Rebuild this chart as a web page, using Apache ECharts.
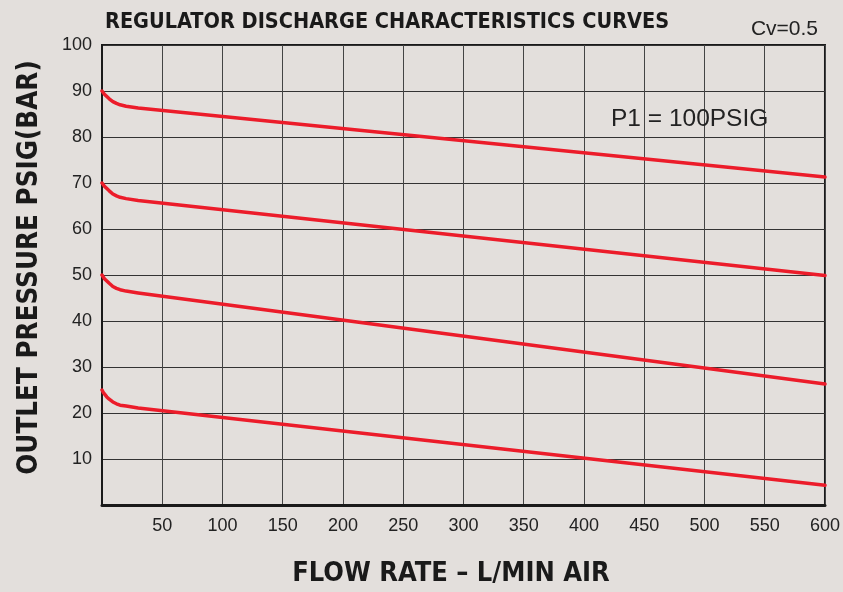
<!DOCTYPE html>
<html>
<head>
<meta charset="utf-8">
<script src="https://cdn.jsdelivr.net/npm/echarts@6/dist/echarts.min.js"></script>
<style>
  html, body { margin: 0; padding: 0; background: #e3dfdc; }
  #main { width: 843px; height: 592px; }
</style>
</head>
<body>
<div id="main"></div>
<script>
// flow rate (L/min air) sample points, dense in the initial drop
const flow = [0, 1, 2, 4, 6, 9, 12, 15, 20, 30, 600];
// outlet pressure curves
const curve90 = [90, 89.6, 89.3, 88.8, 88.3, 87.7, 87.3, 87.0, 86.7, 86.3, 71.3];
const curve70 = [70, 69.6, 69.3, 68.8, 68.3, 67.6, 67.2, 66.9, 66.6, 66.2, 49.9];
const curve50 = [50, 49.6, 49.2, 48.7, 48.2, 47.5, 47.1, 46.8, 46.5, 46.1, 26.3];
const curve25 = [25, 24.5, 24.1, 23.5, 23.0, 22.4, 22.0, 21.7, 21.5, 21.1, 4.3];
const curves = [curve90, curve70, curve50, curve25];

const boldFont = '"Liberation Sans Narrow", "DejaVu Sans Condensed", "Liberation Sans", sans-serif';
const plainFont = '"Liberation Sans", Arial, sans-serif';

let chart = echarts.init(document.getElementById('main'));

let option = {
    backgroundColor: '#e3dfdc',
    animation: false,
    title: [
        {
            text: 'REGULATOR DISCHARGE CHARACTERISTICS CURVES',
            left: 100,
            top: 6,
            textStyle: { fontFamily: boldFont, fontWeight: 'bold', fontSize: 21.5, color: '#1a1a1a' }
        },
        {
            text: 'Cv=0.5',
            right: 20,
            top: 14,
            textStyle: { fontFamily: plainFont, fontWeight: 'normal', fontSize: 21, color: '#222' }
        },
        {
            text: 'P1 = 100PSIG',
            left: 606,
            top: 102,
            textStyle: { fontFamily: plainFont, fontWeight: 'normal', fontSize: 24.5, color: '#222' }
        }
    ],
    grid: {
        left: 102,
        right: 16,
        top: 45,
        bottom: 84,
        show: true,
        borderColor: '#1a1a1a',
        borderWidth: 2
    },
    xAxis: {
        type: 'value',
        min: 0,
        max: 600,
        interval: 50,
        name: 'FLOW RATE – L/MIN AIR',
        nameLocation: 'middle',
        nameGap: 55,
        nameTextStyle: { fontFamily: boldFont, fontWeight: 'bold', fontSize: 27, color: '#1a1a1a', padding: [0, 25, 0, 0] },
        axisLine: { show: true, lineStyle: { color: '#1a1a1a', width: 3 } },
        axisTick: { show: false },
        axisLabel: {
            fontFamily: plainFont, fontSize: 18, color: '#222', margin: 12,
            formatter: v => v === 0 ? '' : v
        },
        splitLine: { show: true, lineStyle: { color: '#444', width: 1 } }
    },
    yAxis: {
        type: 'value',
        min: 0,
        max: 100,
        interval: 10,
        name: 'OUTLET PRESSURE PSIG(BAR)',
        nameLocation: 'middle',
        nameGap: 58,
        nameTextStyle: { fontFamily: boldFont, fontWeight: 'bold', fontSize: 27.5, color: '#1a1a1a', padding: [0, 0, 0, 15] },
        axisLine: { show: true, lineStyle: { color: '#1a1a1a', width: 2 } },
        axisTick: { show: false },
        axisLabel: {
            fontFamily: plainFont, fontSize: 18, color: '#222', margin: 10,
            formatter: v => v === 0 ? '' : v
        },
        splitLine: { show: true, lineStyle: { color: '#333', width: 1.2 } }
    },
    series: curves.map(c => ({
        type: 'line',
        data: flow.map((x, i) => [x, c[i]]),
        smooth: false,
        showSymbol: false,
        lineStyle: { color: '#ec1c2a', width: 3.5, cap: 'round', join: 'round' }
    }))
};
chart.setOption(option);
</script>
</body>
</html>
